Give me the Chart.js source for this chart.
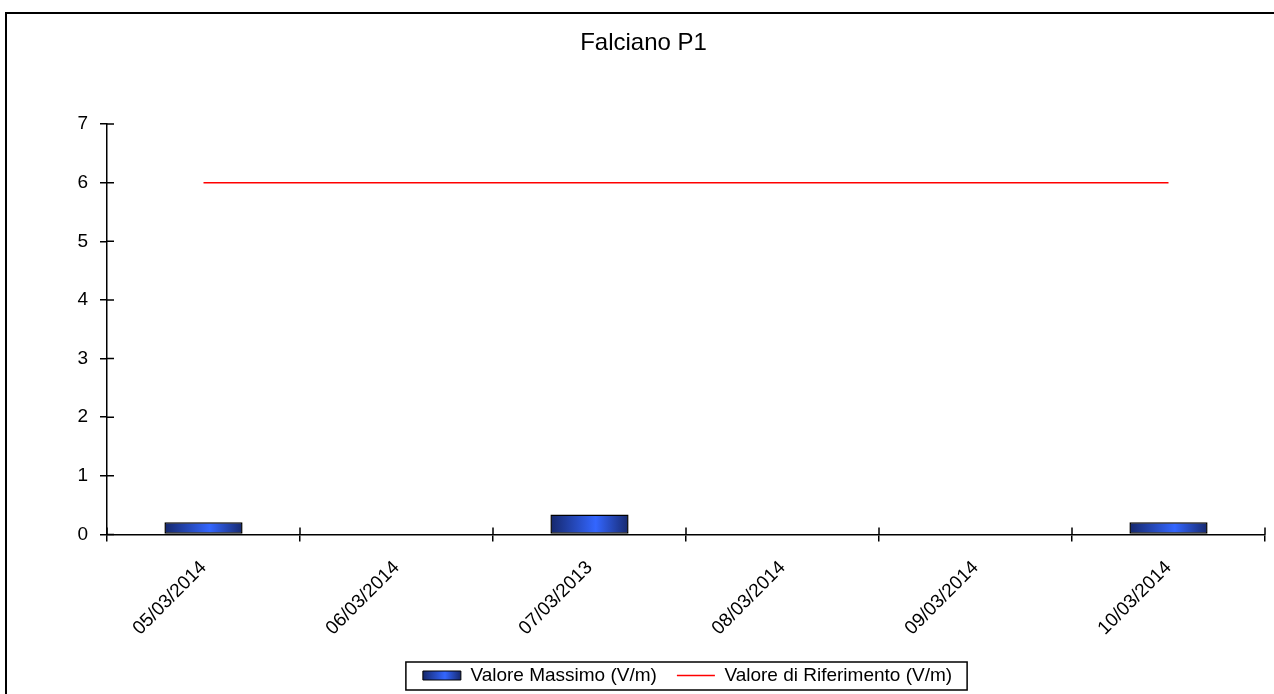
<!DOCTYPE html>
<html>
<head>
<meta charset="utf-8">
<title>Falciano P1</title>
<script src="https://cdn.jsdelivr.net/npm/chart.js@4.4.1/dist/chart.umd.min.js"></script>
<style>
  html, body { margin: 0; padding: 0; background: #fff; }
  #wrap { width: 1274px; height: 694px; position: relative; }
</style>
</head>
<body>
<div id="wrap"><canvas id="grafico"></canvas></div>
<script>
const categorie = ['05/03/2014', '06/03/2014', '07/03/2013', '08/03/2014', '09/03/2014', '10/03/2014'];
const valoreMassimo = [0.21, null, 0.34, null, null, 0.21];
const valoreRiferimento = [6, 6, 6, 6, 6, 6];
const etichetteSerie = ['Valore Massimo (V/m)', 'Valore di Riferimento (V/m)'];

const FONT = 'Arial, "Liberation Sans", sans-serif';
const BAR_PCT = 0.405;

Chart.defaults.font.family = FONT;
Chart.defaults.color = '#000';

function gradienteBarra(ctx, x0, x1) {
  const g = ctx.createLinearGradient(x0, 0, x1, 0);
  g.addColorStop(0, '#15276b');
  g.addColorStop(0.58, '#3366ff');
  g.addColorStop(1, '#17296e');
  return g;
}

// cornice, tacche interne degli assi e riquadro della legenda
const decorazioni = {
  id: 'decorazioni',
  beforeDraw(chart) {
    const t = chart.titleBlock;
    t.left += 11; t.right += 11;

    const lg = chart.legend;
    const shift = 55;
    lg.left += shift; lg.right += shift;
    lg.top = 646; lg.bottom = 700;
    const pad = lg.options.labels.padding;
    const lw = lg.lineWidths[0];
    const start = (lg.left + pad + lg.right - lw) / 2;
    const bw = lg.options.labels.pointStyleWidth;
    lg.legendItems[0].fillStyle = gradienteBarra(chart.ctx, start, start + bw);
    chart._legendBox = { x0: start - 17, x1: start + lw - pad + 15 };
  },
  afterDraw(chart) {
    const c = chart.ctx;
    const { x, y } = chart.scales;
    c.save();
    c.strokeStyle = '#000';
    c.lineWidth = 1.5;
    c.beginPath();
    for (let v = 0; v <= 7; v++) {
      const py = y.getPixelForValue(v);
      c.moveTo(x.left, py); c.lineTo(x.left + 7, py);
    }
    const step = x.width / categorie.length;
    for (let i = 0; i <= categorie.length; i++) {
      const px = x.left + i * step;
      c.moveTo(px, y.bottom); c.lineTo(px, y.bottom - 7);
    }
    c.stroke();

    // riquadro legenda
    const b = chart._legendBox;
    c.lineWidth = 1.5;
    c.strokeRect(b.x0, 662, b.x1 - b.x0, 28);

    // cornice esterna
    c.lineWidth = 2;
    c.beginPath();
    c.moveTo(6, 700); c.lineTo(6, 13); c.lineTo(1280, 13);
    c.stroke();
    c.restore();
  }
};

new Chart(document.getElementById('grafico'), {
  type: 'bar',
  data: {
    labels: categorie,
    datasets: [{
      type: 'bar',
      label: etichetteSerie[0],
      data: valoreMassimo,
      backgroundColor: (ctx) => {
        const xs = ctx.chart.scales.x;
        if (!xs || ctx.type !== 'data' || !xs.width) return '#2d56e0';
        const cx = xs.getPixelForValue(ctx.dataIndex);
        const half = xs.width / categorie.length * BAR_PCT / 2;
        return gradienteBarra(ctx.chart.ctx, cx - half, cx + half);
      },
      borderColor: '#000',
      borderWidth: 1.5,
      borderSkipped: false,
      categoryPercentage: 1,
      barPercentage: BAR_PCT,
      order: 2
    }, {
      type: 'line',
      label: etichetteSerie[1],
      data: valoreRiferimento,
      borderColor: '#ff0000',
      borderWidth: 1.5,
      pointRadius: 0,
      fill: false,
      order: 1
    }]
  },
  options: {
    responsive: true,
    maintainAspectRatio: false,
    animation: false,
    layout: { padding: { left: 0, right: 9, top: 0, bottom: 0 } },
    plugins: {
      title: {
        display: true,
        text: 'Falciano P1',
        font: { size: 24, weight: 'normal' },
        color: '#000',
        padding: { top: 28.5, bottom: 66.7 }
      },
      legend: {
        position: 'bottom',
        maxHeight: 30,
        labels: {
          usePointStyle: true,
          pointStyleWidth: 38,
          boxHeight: 9,
          padding: 20,
          font: { size: 19 },
          color: '#000',
          generateLabels: () => [
            { text: etichetteSerie[0], fillStyle: '#2d56e0', strokeStyle: '#000', lineWidth: 1, pointStyle: 'rect', datasetIndex: 0, hidden: false, fontColor: '#000' },
            { text: etichetteSerie[1], fillStyle: '#ff0000', strokeStyle: '#ff0000', lineWidth: 1.5, pointStyle: 'line', datasetIndex: 1, hidden: false, fontColor: '#000' }
          ]
        }
      },
      tooltip: { enabled: false }
    },
    scales: {
      x: {
        offset: true,
        grid: { offset: true, drawOnChartArea: false, tickLength: 7, color: '#000', lineWidth: 1.5 },
        border: { color: '#000', width: 1.5 },
        ticks: { maxRotation: 45, minRotation: 45, autoSkip: false, padding: 15, font: { size: 19 }, color: '#000' },
        afterFit: (s) => { s.height = 129.5; }
      },
      y: {
        min: 0,
        max: 7,
        grid: { drawOnChartArea: false, tickLength: 7, color: '#000', lineWidth: 1.5 },
        border: { color: '#000', width: 1.5 },
        ticks: { stepSize: 1, padding: 12, font: { size: 19 }, color: '#000' },
        afterFit: (s) => { s.width = 107; }
      }
    }
  },
  plugins: [decorazioni]
});
</script>
</body>
</html>
